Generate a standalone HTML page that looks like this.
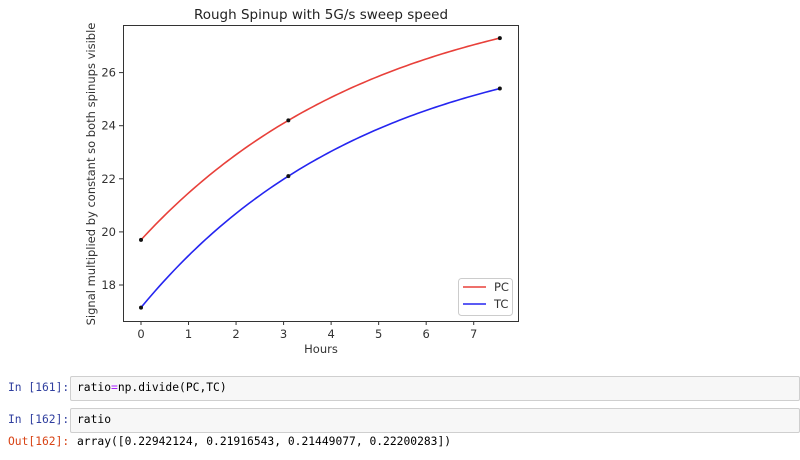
<!DOCTYPE html>
<html><head><meta charset="utf-8"><style>
body{margin:0;width:800px;height:460px;background:#fff;overflow:hidden;position:relative;font-family:"DejaVu Sans","Liberation Sans",sans-serif}
.p{position:absolute;font-family:"DejaVu Sans Mono","Liberation Mono",monospace;font-size:11.3px;white-space:pre}
.box{position:absolute;left:70px;right:0;background:#f7f7f7;border:1px solid #cfcfcf;border-radius:2px}
</style></head><body>
<svg width="800" height="360" style="position:absolute;left:0;top:0">
<g id="g"></g>
</svg>
<div class="p" style="left:8px;top:381px;color:#303f9f">In [161]:</div>
<div class="box" style="top:376px;height:23px"><span class="p" style="left:6px;top:4px;color:#000">ratio<span style="color:#a2f">=</span>np.divide(PC,TC)</span></div>
<div class="p" style="left:8px;top:413px;color:#303f9f">In [162]:</div>
<div class="box" style="top:408px;height:23px"><span class="p" style="left:6px;top:4px;color:#000">ratio</span></div>
<div class="p" style="left:8px;top:435px;color:#d84315">Out[162]:</div>
<div class="p" style="left:77px;top:435px;color:#000">array([0.22942124, 0.21916543, 0.21449077, 0.22200283])</div>
<script>
const hours=[0,3.1,7.55];
const pcVals=[19.7,24.2,27.3];
const tcVals=[17.15,22.1,25.4];
const xTicks=[0,1,2,3,4,5,6,7];
const yTicks=[18,20,22,24,26];
const NS="http://www.w3.org/2000/svg";
const g=document.getElementById('g');
const X=v=>141+v*47.53, Y=v=>285-(v-18)*26.55;
function mk(t,a,txt){const e=document.createElementNS(NS,t);for(const k in a)e.setAttribute(k,a[k]);if(txt!==undefined)e.textContent=txt;g.appendChild(e);return e;}
let e=mk('rect',{x:123.5,y:25.5,width:395,height:296,fill:'none',stroke:'#333','stroke-width':1});


e=mk('text',{x:321,y:19,'text-anchor':'middle','font-size':13.5,fill:'#222'},'Rough Spinup with 5G/s sweep speed');


xTicks.forEach(t=>{mk('line',{x1:X(t),x2:X(t),y1:321,y2:325,stroke:'#333'});
e=mk('text',{x:X(t),y:338,'text-anchor':'middle','font-size':11.5,fill:'#333'},t);

});
yTicks.forEach(t=>{mk('line',{x1:119,x2:123,y1:Y(t),y2:Y(t),stroke:'#333'});
e=mk('text',{x:116,y:Y(t)+4,'text-anchor':'end','font-size':11.5,fill:'#333'},t);

});
e=mk('text',{x:321,y:353,'text-anchor':'middle','font-size':11.5,fill:'#333'},'Hours');


e=mk('text',{x:0,y:0,'text-anchor':'middle','font-size':11.5,fill:'#333',transform:'translate(95,174) rotate(-90)'},'Signal multiplied by constant so both spinups visible');


// exponential saturation fit y = a - b*exp(-k x) through the three points
function fit(xs,ys){
  const r=(ys[1]-ys[0])/(ys[2]-ys[1]);
  const f=k=>(1-Math.exp(-k*xs[1]))/(Math.exp(-k*xs[1])-Math.exp(-k*xs[2]))-r;
  let lo=1e-4,hi=3;
  for(let i=0;i<80;i++){const m=(lo+hi)/2;if(f(lo)*f(m)<=0)hi=m;else lo=m;}
  const k=(lo+hi)/2;const b=(ys[1]-ys[0])/(1-Math.exp(-k*xs[1]));const a=ys[0]+b;
  return x=>a-b*Math.exp(-k*x);
}
[[pcVals,'#e8403a','pc'],[tcVals,'#2525f0','tc']].forEach(([vals,c,n])=>{
const fn=fit(hours,vals);
let d='';const x0=hours[0],x1=hours[hours.length-1];
for(let i=0;i<=100;i++){const x=x0+(x1-x0)*i/100;d+=(i?'L':'M')+X(x).toFixed(2)+','+Y(fn(x)).toFixed(2);}
e=mk('path',{d:d,fill:'none',stroke:c,'stroke-width':1.6});


vals.forEach((v,i)=>{e=mk('circle',{cx:X(hours[i]),cy:Y(v),r:2,fill:'#111'});

});
});
e=mk('rect',{x:458.5,y:278.5,width:54,height:37,rx:3,fill:'#fff',stroke:'#ccc'});


mk('line',{x1:463,x2:486,y1:287,y2:287,stroke:'#e8403a','stroke-width':1.6});
e=mk('text',{x:494,y:291,'font-size':11.5,fill:'#333'},'PC');


mk('line',{x1:463,x2:486,y1:304,y2:304,stroke:'#2525f0','stroke-width':1.6});
e=mk('text',{x:494,y:308,'font-size':11.5,fill:'#333'},'TC');


</script>
</body></html>
